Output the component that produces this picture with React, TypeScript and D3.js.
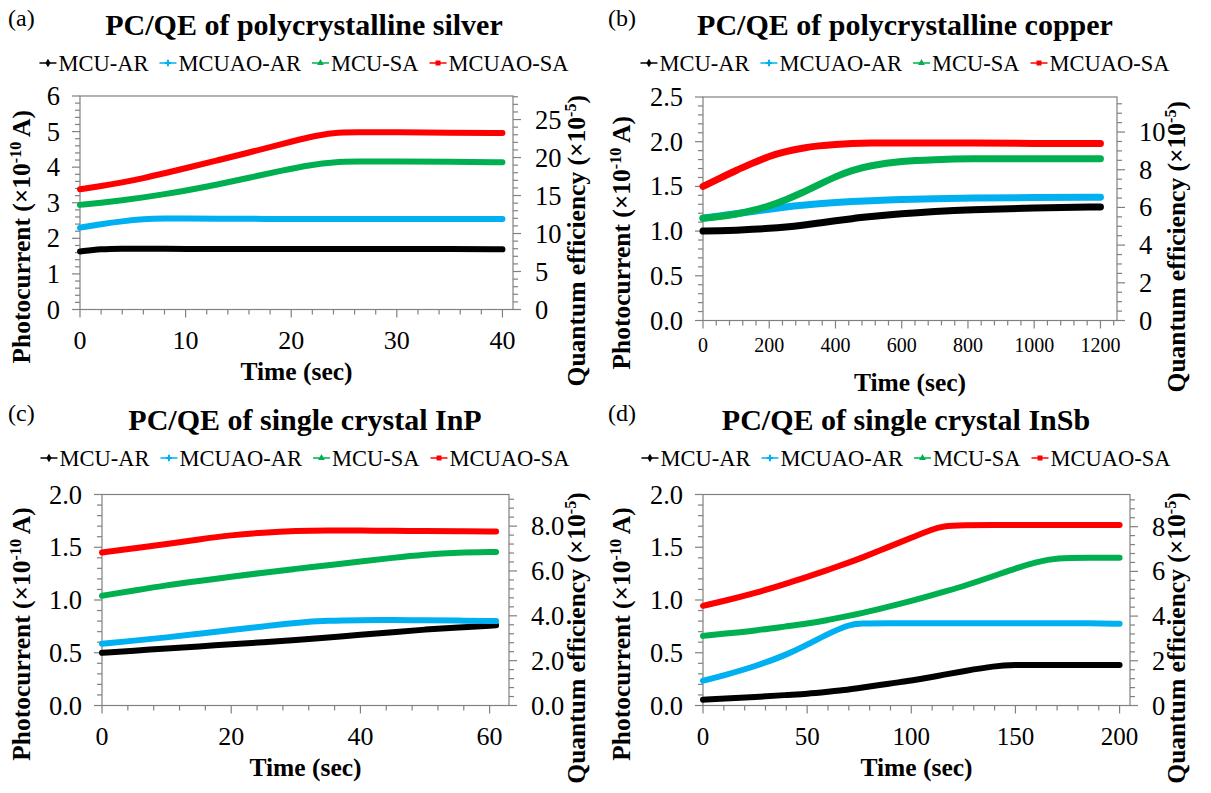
import React, { useEffect, useRef } from 'react';
import * as d3 from 'd3';

const SERIES_NAMES = ['MCU-AR', 'MCUAO-AR', 'MCU-SA', 'MCUAO-SA'];
const SERIES_COLORS = ['#000000', '#00B0F0', '#00B050', '#FF0000'];

// (a) polycrystalline silver, photocurrent in 1e-10 A
const silverTime = [0, 2, 4, 6, 8, 10, 13, 16, 19, 22, 24, 26, 30, 35, 40];
const silverMcuAr = [1.63, 1.7, 1.71, 1.71, 1.71, 1.7, 1.7, 1.7, 1.7, 1.7, 1.7, 1.7, 1.7, 1.7, 1.69];
const silverMcuaoAr = [2.3, 2.4, 2.48, 2.54, 2.56, 2.56, 2.55, 2.55, 2.54, 2.54, 2.54, 2.54, 2.54, 2.54, 2.54];
const silverMcuSa = [2.94, 3.0, 3.07, 3.15, 3.24, 3.34, 3.51, 3.7, 3.9, 4.07, 4.14, 4.16, 4.16, 4.15, 4.14];
const silverMcuaoSa = [3.38, 3.47, 3.57, 3.69, 3.83, 3.97, 4.19, 4.41, 4.64, 4.87, 4.97, 4.98, 4.98, 4.97, 4.96];

// (b) polycrystalline copper
const copperTime = [0, 50, 100, 150, 200, 250, 300, 350, 400, 450, 500, 600, 700, 800, 1000, 1200];
const copperMcuAr = [1.0, 1.005, 1.01, 1.02, 1.03, 1.045, 1.065, 1.09, 1.115, 1.14, 1.16, 1.195, 1.22, 1.24, 1.26, 1.27];
const copperMcuaoAr = [1.145, 1.17, 1.195, 1.22, 1.245, 1.27, 1.29, 1.305, 1.32, 1.33, 1.34, 1.355, 1.36, 1.37, 1.375, 1.38];
const copperMcuSa = [1.145, 1.16, 1.19, 1.23, 1.28, 1.35, 1.43, 1.52, 1.61, 1.68, 1.73, 1.785, 1.8, 1.81, 1.81, 1.81];
const copperMcuaoSa = [1.5, 1.59, 1.68, 1.76, 1.84, 1.89, 1.93, 1.955, 1.97, 1.98, 1.985, 1.985, 1.985, 1.985, 1.98, 1.98];

// (c) single crystal InP
const inpTime = [0, 5, 10, 15, 20, 25, 30, 35, 40, 45, 50, 55, 61];
const inpMcuAr = [0.5, 0.52, 0.54, 0.56, 0.58, 0.6, 0.62, 0.645, 0.67, 0.695, 0.72, 0.74, 0.76];
const inpMcuaoAr = [0.585, 0.615, 0.645, 0.68, 0.715, 0.75, 0.785, 0.805, 0.81, 0.81, 0.808, 0.805, 0.8];
const inpMcuSa = [1.04, 1.09, 1.14, 1.18, 1.22, 1.26, 1.295, 1.33, 1.365, 1.4, 1.43, 1.45, 1.455];
const inpMcuaoSa = [1.45, 1.49, 1.53, 1.575, 1.615, 1.64, 1.655, 1.66, 1.66, 1.655, 1.655, 1.65, 1.65];

// (d) single crystal InSb
const insbTime = [0, 10, 25, 40, 50, 60, 70, 75, 90, 100, 110, 115, 125, 140, 150, 160, 170, 185, 200];
const insbMcuAr = [0.055, 0.065, 0.08, 0.1, 0.11, 0.13, 0.15, 0.165, 0.21, 0.235, 0.27, 0.29, 0.325, 0.375, 0.385, 0.385, 0.385, 0.385, 0.385];
const insbMcuaoAr = [0.235, 0.285, 0.37, 0.48, 0.575, 0.68, 0.765, 0.78, 0.78, 0.78, 0.78, 0.78, 0.78, 0.78, 0.78, 0.78, 0.78, 0.78, 0.775];
const insbMcuSa = [0.66, 0.68, 0.71, 0.75, 0.775, 0.81, 0.85, 0.87, 0.94, 0.99, 1.045, 1.075, 1.13, 1.23, 1.3, 1.36, 1.4, 1.4, 1.4];
const insbMcuaoSa = [0.945, 0.99, 1.065, 1.155, 1.22, 1.285, 1.355, 1.39, 1.51, 1.59, 1.67, 1.7, 1.71, 1.71, 1.71, 1.71, 1.71, 1.71, 1.71];

const panels = [
    {
        tag: '(a)', title: 'PC/QE of polycrystalline silver',
        time: silverTime, series: [silverMcuAr, silverMcuaoAr, silverMcuSa, silverMcuaoSa],
        x: [80, 513], y: [309.5, 96], cx: 304,
        xMax: 41, xMajor: 10, xMinor: 2, xFont: 26,
        yMax: 6, yMajor: 1, yMinor: 0.2, yFmt: d3.format('d'),
        qeMax: 28.1, qeMajor: 5, qeMinor: 1, qeFmt: d3.format('d'),
        lineW: 6, oy: 0,
    },
    {
        tag: '(b)', title: 'PC/QE of polycrystalline copper',
        time: copperTime, series: [copperMcuAr, copperMcuaoAr, copperMcuSa, copperMcuaoSa],
        x: [703, 1117], y: [320.5, 97], cx: 905,
        xMax: 1250, xMajor: 200, xMinor: 40, xFont: 20,
        yMax: 2.5, yMajor: 0.5, yMinor: 0.1, yFmt: d3.format('.1f'),
        qeMax: 11.86, qeMajor: 2, qeMinor: 0.5, qeFmt: d3.format('d'),
        lineW: 7, oy: 0,
    },
    {
        tag: '(c)', title: 'PC/QE of single crystal InP',
        time: inpTime, series: [inpMcuAr, inpMcuaoAr, inpMcuSa, inpMcuaoSa],
        x: [102, 509], y: [705.5, 494.5], cx: 305,
        xMax: 63, xMajor: 20, xMinor: 4, xFont: 26,
        yMax: 2, yMajor: 0.5, yMinor: 0.1, yFmt: d3.format('.1f'),
        qeMax: 9.41, qeMajor: 2, qeMinor: 0.4, qeFmt: d3.format('.1f'),
        lineW: 6, oy: 395,
    },
    {
        tag: '(d)', title: 'PC/QE of single crystal InSb',
        time: insbTime, series: [insbMcuAr, insbMcuaoAr, insbMcuSa, insbMcuaoSa],
        x: [703, 1130], y: [705.5, 494.5], cx: 906,
        xMax: 205, xMajor: 50, xMinor: 10, xFont: 25,
        yMax: 2, yMajor: 0.5, yMinor: 0.1, yFmt: d3.format('.1f'),
        qeMax: 9.44, qeMajor: 2, qeMinor: 0.4, qeFmt: d3.format('d'),
        lineW: 6, oy: 395,
    },
];

const FONT = '"Liberation Serif", "Times New Roman", serif';
const AXIS = '#808080';

const steps = (max, step) => d3.range(0, max + step * 1e-6, step).map(v => +v.toFixed(6));

const App = () => {
    const svgRef = useRef(null);

    useEffect(() => {
        const svg = d3.select(svgRef.current);
        svg.selectAll('*').remove();

        panels.forEach((p, pi) => {
            const g = svg.append('g').attr('font-family', FONT);
            const x = d3.scaleLinear().domain([0, p.xMax]).range(p.x);
            const y = d3.scaleLinear().domain([0, p.yMax]).range(p.y);
            const yq = d3.scaleLinear().domain([0, p.qeMax]).range(p.y);
            const [x0, x1] = p.x;
            const [yb, yt] = p.y;
            const left0 = pi % 2 === 0 ? 0 : 600;

            // panel tag and title
            g.append('text').attr('x', left0 + 8).attr('y', 26 + p.oy)
                .attr('font-size', 24).text(p.tag);
            g.append('text').attr('x', p.cx).attr('y', 35 + p.oy)
                .attr('text-anchor', 'middle').attr('font-size', 30).attr('font-weight', 'bold')
                .text(p.title);

            // legend
            const leg = g.append('g');
            let lx = 0;
            SERIES_NAMES.forEach((name, i) => {
                const item = leg.append('g').attr('transform', `translate(${lx},0)`);
                const c = SERIES_COLORS[i];
                item.append('line').attr('x1', 0).attr('x2', 17).attr('y1', 0).attr('y2', 0)
                    .attr('stroke', c).attr('stroke-width', 1.5);
                if (i === 0) item.append('path').attr('d', d3.symbol(d3.symbolDiamond, 22)()).attr('transform', 'translate(8.5,0)').attr('fill', c);
                if (i === 1) item.append('path').attr('d', d3.symbol(d3.symbolCross, 22)()).attr('transform', 'translate(8.5,0)').attr('fill', c);
                if (i === 2) item.append('path').attr('d', d3.symbol(d3.symbolTriangle, 20)()).attr('transform', 'translate(8.5,0)').attr('fill', c);
                if (i === 3) item.append('rect').attr('x', 6).attr('y', -2.5).attr('width', 5).attr('height', 5).attr('fill', c);
                const t = item.append('text').attr('x', 19).attr('y', 7.5).attr('font-size', 22.5).text(name);
                lx += 19 + t.node().getComputedTextLength() + 11;
            });
            lx -= 11;
            leg.attr('transform', `translate(${p.cx - lx / 2},${63 + p.oy})`);

            // plot frame
            g.append('rect').attr('x', x0).attr('y', yt).attr('width', x1 - x0).attr('height', yb - yt)
                .attr('fill', 'none').attr('stroke', AXIS).attr('stroke-width', 1.2);

            // x ticks
            const xMaj = steps(p.xMax, p.xMajor);
            const xMin = steps(p.xMax, p.xMinor).filter(v => !xMaj.includes(v));
            g.selectAll(null).data(xMin).join('line')
                .attr('x1', d => x(d)).attr('x2', d => x(d)).attr('y1', yb).attr('y2', yb + 5)
                .attr('stroke', AXIS).attr('stroke-width', 1.2);
            g.selectAll(null).data(xMaj).join('line')
                .attr('x1', d => x(d)).attr('x2', d => x(d)).attr('y1', yb).attr('y2', yb + 8)
                .attr('stroke', AXIS).attr('stroke-width', 1.2);
            g.selectAll(null).data(xMaj).join('text')
                .attr('x', d => x(d)).attr('y', yb + (p.xFont > 22 ? 39 : 31))
                .attr('text-anchor', 'middle').attr('font-size', p.xFont).text(d => d);

            // left y ticks
            const yMaj = steps(p.yMax, p.yMajor);
            const yMin = steps(p.yMax, p.yMinor).filter(v => !yMaj.some(m => Math.abs(m - v) < 1e-6));
            g.selectAll(null).data(yMin).join('line')
                .attr('x1', x0 - 5).attr('x2', x0).attr('y1', d => y(d)).attr('y2', d => y(d))
                .attr('stroke', AXIS).attr('stroke-width', 1.2);
            g.selectAll(null).data(yMaj).join('line')
                .attr('x1', x0 - 8).attr('x2', x0).attr('y1', d => y(d)).attr('y2', d => y(d))
                .attr('stroke', AXIS).attr('stroke-width', 1.2);
            g.selectAll(null).data(yMaj).join('text')
                .attr('x', x0 - 20).attr('y', d => y(d) + 9)
                .attr('text-anchor', 'end').attr('font-size', 26.5).text(d => p.yFmt(d));

            // right QE ticks
            const qMaj = steps(p.qeMax, p.qeMajor);
            const qMin = steps(p.qeMax, p.qeMinor).filter(v => !qMaj.some(m => Math.abs(m - v) < 1e-6));
            g.selectAll(null).data(qMin).join('line')
                .attr('x1', x1).attr('x2', x1 + 5).attr('y1', d => yq(d)).attr('y2', d => yq(d))
                .attr('stroke', AXIS).attr('stroke-width', 1.2);
            g.selectAll(null).data(qMaj).join('line')
                .attr('x1', x1).attr('x2', x1 + 8).attr('y1', d => yq(d)).attr('y2', d => yq(d))
                .attr('stroke', AXIS).attr('stroke-width', 1.2);
            g.selectAll(null).data(qMaj).join('text')
                .attr('x', x1 + 22).attr('y', d => yq(d) + 9)
                .attr('font-size', 26.5).text(d => p.qeFmt(d));

            // axis titles
            const midY = (yb + yt) / 2 + 34;
            const lt = g.append('text').attr('transform', `translate(${left0 + 30},${midY}) rotate(-90)`)
                .attr('text-anchor', 'middle').attr('font-size', 25.5).attr('font-weight', 'bold');
            lt.append('tspan').text('Photocurrent (×10');
            lt.append('tspan').attr('font-size', 16).attr('dy', -9).text('-10');
            lt.append('tspan').attr('dy', 9).text(' A)');

            const rt = g.append('text').attr('transform', `translate(${left0 + 585},${midY + 4}) rotate(-90)`)
                .attr('text-anchor', 'middle').attr('font-size', 25.5).attr('font-weight', 'bold');
            rt.append('tspan').text('Quantum efficiency (×10');
            rt.append('tspan').attr('font-size', 16).attr('dy', -9).text('-5');
            rt.append('tspan').attr('dy', 9).text(')');

            g.append('text').attr('x', (x0 + x1) / 2).attr('y', yb + 70)
                .attr('text-anchor', 'middle').attr('font-size', 25.5).attr('font-weight', 'bold')
                .text('Time (sec)');

            // data
            const line = d3.line().x((d, i) => x(p.time[i])).y(d => y(d)).curve(d3.curveBasis);
            p.series.forEach((s, i) => {
                g.append('path').attr('d', line(s)).attr('fill', 'none')
                    .attr('stroke', SERIES_COLORS[i]).attr('stroke-width', p.lineW)
                    .attr('stroke-linecap', 'round').attr('stroke-linejoin', 'round');
            });
        });
    }, []);

    return (
        <svg ref={svgRef} width={1211} height={793}
            style={{ position: 'absolute', left: 0, top: 0, background: '#fff', fontFamily: FONT }} />
    );
};

export default App;
